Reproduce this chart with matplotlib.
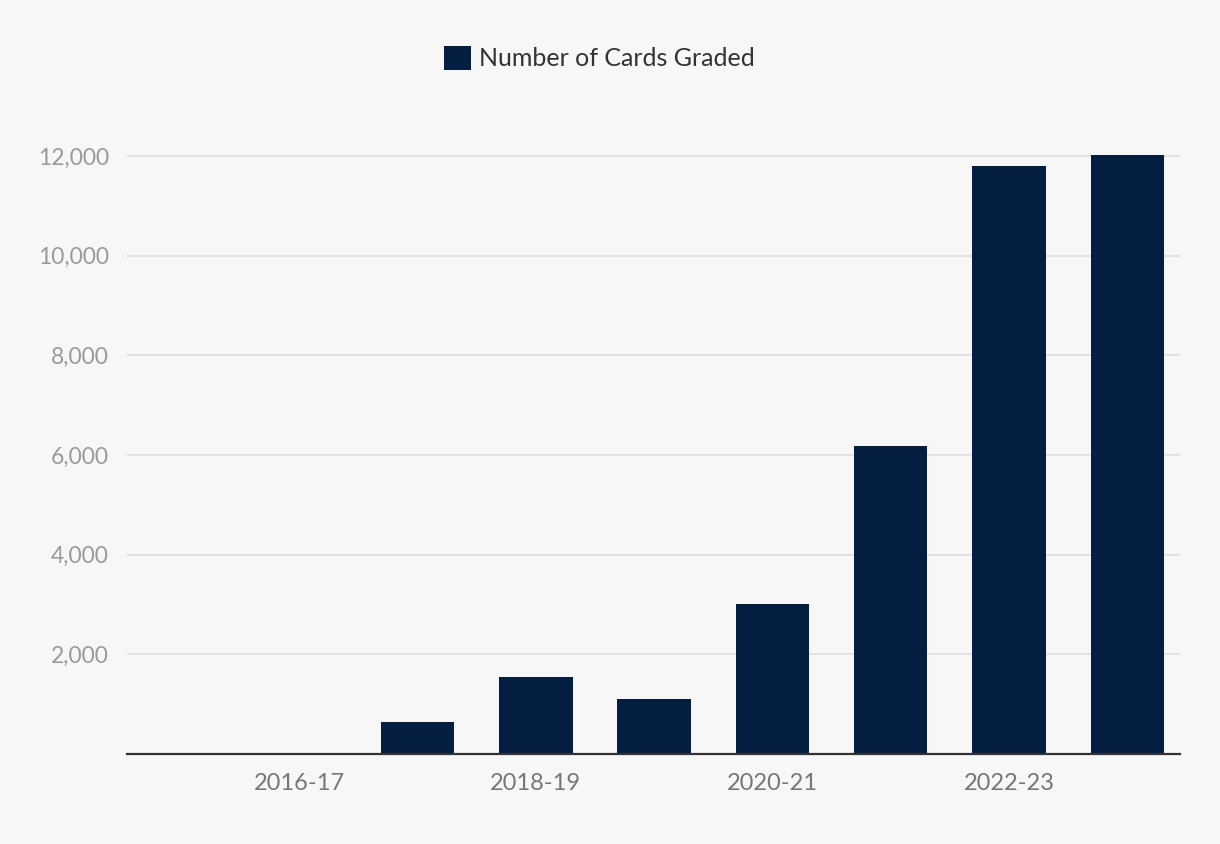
import matplotlib.pyplot as plt
from matplotlib.patches import Patch

# Data
seasons = ['2015-16', '2016-17', '2017-18', '2018-19', '2019-20',
           '2020-21', '2021-22', '2022-23', '2023-24']
cards_graded = [0, 0, 650, 1550, 1100, 3000, 6180, 11800, 12020]
y_ticks = [2000, 4000, 6000, 8000, 10000, 12000]
labelled_seasons = ['2016-17', '2018-19', '2020-21', '2022-23']

bg = '#f7f7f7'
navy = '#041e42'

plt.rcParams['font.family'] = ['Lato', 'DejaVu Sans']

fig = plt.figure(figsize=(12.2, 8.44), dpi=100, facecolor=bg)
ax = fig.add_axes([127 / 1220, 90 / 844, (1180 - 127) / 1220, (754 - 150) / 844])
ax.set_facecolor(bg)

x = list(range(len(seasons)))
ax.bar(x, cards_graded, width=0.62, color=navy, zorder=3)

# Axes limits chosen so category centres line up with the reference
ax.set_xlim(-0.455, 8.444)
ax.set_ylim(0, 12120)

ax.set_yticks(y_ticks)
ax.set_yticklabels([f'{v:,}' for v in y_ticks])
ax.set_xticks([seasons.index(s) for s in labelled_seasons])
ax.set_xticklabels(labelled_seasons)

ax.grid(axis='y', color='#e2e2e2', linewidth=1.5, zorder=0)
ax.tick_params(axis='y', length=0, pad=13, labelsize=16.5, labelcolor='#9a9a9a')
ax.tick_params(axis='x', length=0, pad=14, labelsize=17, labelcolor='#777777')

for side in ['top', 'right', 'left']:
    ax.spines[side].set_visible(False)
ax.spines['bottom'].set_color('#333333')
ax.spines['bottom'].set_linewidth(1.6)
ax.spines['bottom'].set_zorder(4)

handle = Patch(facecolor=navy, edgecolor='none', label='Number of Cards Graded')
leg = fig.legend(handles=[handle], loc='center', bbox_to_anchor=(0.491, 0.931),
                 frameon=False, fontsize=18, handlelength=1.1, handleheight=1.1,
                 handletextpad=0.3)
for t in leg.get_texts():
    t.set_color('#333333')

fig.savefig('out.png', dpi=100, facecolor=bg)
